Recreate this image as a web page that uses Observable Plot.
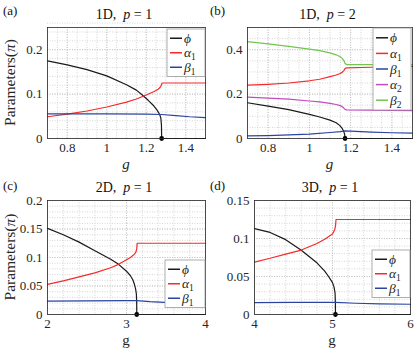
<!DOCTYPE html>
<html><head><meta charset="utf-8">
<script src="https://cdn.jsdelivr.net/npm/d3@7"></script>
<script src="https://cdn.jsdelivr.net/npm/@observablehq/plot@0.6"></script>
<style>
body{margin:0;background:#fff}
#wrap{position:relative;width:415px;height:355px;overflow:hidden;font-family:"Liberation Serif","DejaVu Serif","Times New Roman",Times,serif}
#wrap > svg{position:absolute}
#wrap text{font-family:"Liberation Serif","DejaVu Serif","Times New Roman",Times,serif}
</style></head><body><div id="wrap"></div>
<script>
const FONT = '"Liberation Serif", "DejaVu Serif", "Times New Roman", Times, serif';
// ---------- colours ----------
const colPhi = "#1a1a1a", colA1 = "#f52a2a", colB1 = "#2a44a0", colA2 = "#c04cc0", colB2 = "#74c450";

// ---------- panel (a) 1D p=1 ----------
const aXTicks = [0.8, 1, 1.2, 1.4], aYTicks = [0, 0.1, 0.2];
const aGc = 1.278;
const aPhiG = [0.7, 0.8, 0.9, 1.0, 1.1, 1.15, 1.18, 1.21, 1.235, 1.255, 1.268, 1.274, 1.277, 1.278, 1.5];
const aPhiV = [0.175, 0.166, 0.155, 0.141, 0.121, 0.109, 0.098, 0.086, 0.075, 0.064, 0.054, 0.046, 0.03, 0, 0];
const aA1G = [0.7, 0.8, 0.9, 1.0, 1.1, 1.15, 1.2, 1.24, 1.26, 1.27, 1.276, 1.28, 1.5];
const aA1V = [0.049, 0.055, 0.062, 0.071, 0.082, 0.089, 0.098, 0.106, 0.111, 0.115, 0.12, 0.125, 0.125];
const aB1G = [0.7, 1.0, 1.2, 1.278, 1.35, 1.42, 1.5];
const aB1V = [0.0555, 0.0555, 0.055, 0.054, 0.0515, 0.049, 0.047];

// ---------- panel (b) 1D p=2 ----------
const bXTicks = [0.8, 1, 1.2, 1.4], bYTicks = [0, 0.2, 0.4];
const bGc = 1.173;
const bPhiG = [0.7, 0.8, 0.9, 1.0, 1.05, 1.1, 1.13, 1.148, 1.16, 1.166, 1.17, 1.172, 1.173, 1.5];
const bPhiV = [0.161, 0.146, 0.130, 0.109, 0.097, 0.083, 0.071, 0.058, 0.044, 0.033, 0.022, 0.012, 0, 0];
const bA1G = [0.7, 0.8, 0.9, 1.0, 1.05, 1.1, 1.13, 1.15, 1.16, 1.168, 1.173, 1.18, 1.3, 1.5];
const bA1V = [0.240, 0.244, 0.250, 0.260, 0.267, 0.279, 0.286, 0.293, 0.299, 0.307, 0.315, 0.318, 0.321, 0.325];
const bB1G = [0.7, 0.8, 0.9, 1.0, 1.1, 1.15, 1.173, 1.2, 1.3, 1.4, 1.5];
const bB1V = [0.012, 0.013, 0.016, 0.020, 0.027, 0.031, 0.034, 0.033, 0.029, 0.026, 0.024];
const bA2G = [0.7, 0.8, 0.9, 1.0, 1.05, 1.1, 1.13, 1.15, 1.16, 1.168, 1.173, 1.18, 1.5];
const bA2V = [0.186, 0.182, 0.177, 0.169, 0.165, 0.158, 0.153, 0.148, 0.143, 0.136, 0.131, 0.129, 0.126];
const bB2G = [0.7, 0.8, 0.9, 1.0, 1.05, 1.1, 1.13, 1.15, 1.16, 1.168, 1.173, 1.18, 1.5];
const bB2V = [0.436, 0.426, 0.415, 0.403, 0.396, 0.386, 0.377, 0.368, 0.360, 0.350, 0.338, 0.333, 0.333];

// ---------- panel (c) 2D p=1 ----------
const cXTicks = [2, 3, 4], cYTicks = [0, 0.05, 0.1, 0.15, 0.2];
const cGc = 3.13;
const cPhiG = [2.0, 2.2, 2.4, 2.6, 2.8, 2.9, 3.0, 3.05, 3.08, 3.1, 3.115, 3.125, 3.129, 3.13, 4.0];
const cPhiV = [0.151, 0.140, 0.127, 0.112, 0.097, 0.088, 0.076, 0.068, 0.061, 0.053, 0.045, 0.036, 0.02, 0, 0];
const cA1G = [2.0, 2.2, 2.4, 2.6, 2.8, 2.9, 3.0, 3.05, 3.1, 3.12, 3.13, 3.135, 4.0];
const cA1V = [0.053, 0.059, 0.066, 0.073, 0.082, 0.088, 0.096, 0.100, 0.106, 0.110, 0.116, 0.125, 0.125];
const cB1G = [2.0, 2.5, 3.0, 3.13, 3.3, 3.6, 4.0];
const cB1V = [0.0233, 0.0240, 0.0245, 0.0245, 0.0225, 0.0205, 0.0187];

// ---------- panel (d) 3D p=1 ----------
const dXTicks = [4, 5, 6], dYTicks = [0, 0.05, 0.1, 0.15];
const dGc = 5.038;
const dPhiG = [4.0, 4.2, 4.4, 4.6, 4.8, 4.9, 4.95, 5.0, 5.02, 5.033, 5.037, 5.038, 6.0];
const dPhiV = [0.113, 0.108, 0.0985, 0.0845, 0.068, 0.057, 0.050, 0.042, 0.036, 0.028, 0.015, 0, 0];
const dA1G = [4.0, 4.2, 4.4, 4.6, 4.8, 4.9, 5.0, 5.03, 5.04, 5.045, 6.0];
const dA1V = [0.069, 0.074, 0.0795, 0.0848, 0.0935, 0.099, 0.106, 0.112, 0.118, 0.125, 0.125];
const dB1G = [4.0, 4.5, 5.04, 5.3, 5.6, 6.0];
const dB1V = [0.0157, 0.016, 0.016, 0.0148, 0.014, 0.0135];

// ---------- legend names ----------
const namesP1 = [["ϕ", ""], ["α", "1"], ["β", "1"]];
const namesP2 = [["ϕ", ""], ["α", "1"], ["β", "1"], ["α", "2"], ["β", "2"]];

const rows = (g, v) => g.map((x, i) => ({g: x, v: v[i]}));

const panels = [
  {tag: "(a)", dim: "1D", p: "1", left: 0, top: 0, width: 207, height: 175, ml: 47, mr: 2, mt: 27, mb: 37,
   xd: [0.7, 1.5], yd: [0, 0.25], xt: aXTicks, yt: aYTicks, xm: 0.05, ym: 0.02, gc: aGc, ylab: true, xItalic: true,
   series: [[aPhiG, aPhiV, colPhi], [aA1G, aA1V, colA1], [aB1G, aB1V, colB1]], names: namesP1,
   leg: {x: 167, y: 29, w: 38, rh: 14.5}},
  {tag: "(b)", dim: "1D", p: "2", left: 207, top: 0, width: 208, height: 175, ml: 40, mr: 3, mt: 27, mb: 37,
   xd: [0.7, 1.5], yd: [0, 0.5], xt: bXTicks, yt: bYTicks, xm: 0.05, ym: 0.05, gc: bGc, ylab: false, xItalic: true,
   series: [[bPhiG, bPhiV, colPhi], [bA1G, bA1V, colA1], [bB1G, bB1V, colB1], [bA2G, bA2V, colA2], [bB2G, bB2V, colB2]], names: namesP2,
   leg: {x: 373, y: 28, w: 38, rh: 15.6}},
  {tag: "(c)", dim: "2D", p: "1", left: 0, top: 175, width: 207, height: 180, ml: 47, mr: 2, mt: 25, mb: 41,
   xd: [2, 4], yd: [0, 0.2], xt: cXTicks, yt: cYTicks, xm: 0.2, ym: 0.01, gc: cGc, ylab: true, xItalic: false,
   series: [[cPhiG, cPhiV, colPhi], [cA1G, cA1V, colA1], [cB1G, cB1V, colB1]], names: namesP1,
   leg: {x: 165, y: 260, w: 40, rh: 14.5}},
  {tag: "(d)", dim: "3D", p: "1", left: 207, top: 175, width: 208, height: 180, ml: 47, mr: 5, mt: 25, mb: 41,
   xd: [4, 6], yd: [0, 0.15], xt: dXTicks, yt: dYTicks, xm: 0.2, ym: 0.01, gc: dGc, ylab: false, xItalic: false,
   series: [[dPhiG, dPhiV, colPhi], [dA1G, dA1V, colA1], [dB1G, dB1V, colB1]], names: namesP1,
   leg: {x: 372, y: 250, w: 38, rh: 14.5}}
];

const wrap = document.getElementById("wrap");
const fmt = d => String(+d.toFixed(4));
const minor = (d, s) => d3.range(Math.round((d[1] - d[0]) / s) + 1).map(i => +(d[0] + i * s).toFixed(5));

for (const P of panels) {
  const marks = [
    Plot.gridX(minor(P.xd, P.xm), {stroke: "#d6d6d6", strokeOpacity: 1, strokeDasharray: "1,1.5"}),
    Plot.gridY(minor(P.yd, P.ym), {stroke: "#d6d6d6", strokeOpacity: 1, strokeDasharray: "1,1.5"}),
    Plot.gridX(P.xt, {stroke: "#c4c4c4", strokeOpacity: 1, strokeDasharray: "1,1.5"}),
    Plot.gridY(P.yt, {stroke: "#c4c4c4", strokeOpacity: 1, strokeDasharray: "1,1.5"})
  ];
  for (const [g, v, c] of P.series) marks.push(Plot.line(rows(g, v), {x: "g", y: "v", stroke: c, strokeWidth: 1.2}));
  marks.push(Plot.dot([{g: P.gc, v: 0}], {x: "g", y: "v", r: 2.4, fill: "#000", stroke: "none"}));
  marks.push(Plot.frame({stroke: "#262626", strokeWidth: 0.8}));
  const svg = Plot.plot({
    width: P.width, height: P.height,
    marginLeft: P.ml, marginRight: P.mr, marginTop: P.mt, marginBottom: P.mb,
    x: {domain: P.xd, ticks: P.xt, tickFormat: fmt, tickSize: 0, tickPadding: 4, label: null},
    y: {domain: P.yd, ticks: P.yt, tickFormat: fmt, tickSize: 0, tickPadding: 5, label: null},
    style: {fontFamily: FONT, fontSize: "13px", color: "#262626", background: "transparent", overflow: "visible"},
    marks
  });
  svg.style.left = P.left + "px";
  svg.style.top = P.top + "px";
  wrap.appendChild(svg);
}

// ---------- overlay: titles, labels, legends ----------
const ov = d3.select(wrap).append("svg").attr("width", 415).attr("height", 355)
  .style("left", "0px").style("top", "0px")
  .attr("font-family", FONT).attr("fill", "#262626");

for (const P of panels) {
  const x0 = P.left + P.ml, x1 = P.left + P.width - P.mr;
  const y0 = P.top + P.mt, y1 = P.top + P.height - P.mb;
  const cx = (x0 + x1) / 2, cy = (y0 + y1) / 2;
  // panel tag
  ov.append("text").attr("x", P.left + 3).attr("y", P.top + 15).attr("font-size", 13).attr("fill", "#111").text(P.tag);
  // title
  const t = ov.append("text").attr("x", cx - 2).attr("y", y0 - 8).attr("text-anchor", "middle").attr("font-size", 14).attr("fill", "#111");
  t.append("tspan").text(P.dim + ",\u2002");
  t.append("tspan").attr("font-style", "italic").text("p");
  t.append("tspan").text(" = " + P.p);
  // x label
  ov.append("text").attr("x", cx).attr("y", y1 + 31).attr("text-anchor", "middle").attr("font-size", 15)
    .attr("font-style", P.xItalic ? "italic" : "normal").attr("fill", "#262626").text("g");
  // y label
  if (P.ylab) {
    const yl = ov.append("text").attr("transform", `translate(${P.left + 15},${cy}) rotate(-90)`)
      .attr("text-anchor", "middle").attr("font-size", 15.5).attr("fill", "#262626");
    yl.append("tspan").text("Parameters(");
    yl.append("tspan").attr("font-style", "italic").text("π");
    yl.append("tspan").text(")");
  }
  // legend
  const L = P.leg, n = P.names.length;
  ov.append("rect").attr("x", L.x).attr("y", L.y).attr("width", L.w).attr("height", n * L.rh + 4)
    .attr("fill", "#fff").attr("stroke", "#9a9a9a").attr("stroke-width", 0.8);
  P.names.forEach(([sym, sub], i) => {
    const ry = L.y + 2 + L.rh * (i + 0.5);
    ov.append("line").attr("x1", L.x + 3).attr("x2", L.x + 15).attr("y1", ry).attr("y2", ry)
      .attr("stroke", P.series[i][2]).attr("stroke-width", 1.5);
    const tx = ov.append("text").attr("x", L.x + 17).attr("y", ry + 4.5).attr("font-size", 13.5).attr("fill", "#262626");
    tx.append("tspan").attr("font-style", "italic").text(sym);
    if (sub) tx.append("tspan").attr("font-size", 9.5).attr("dy", 3).text(sub);
  });
}
</script>
</body></html>
